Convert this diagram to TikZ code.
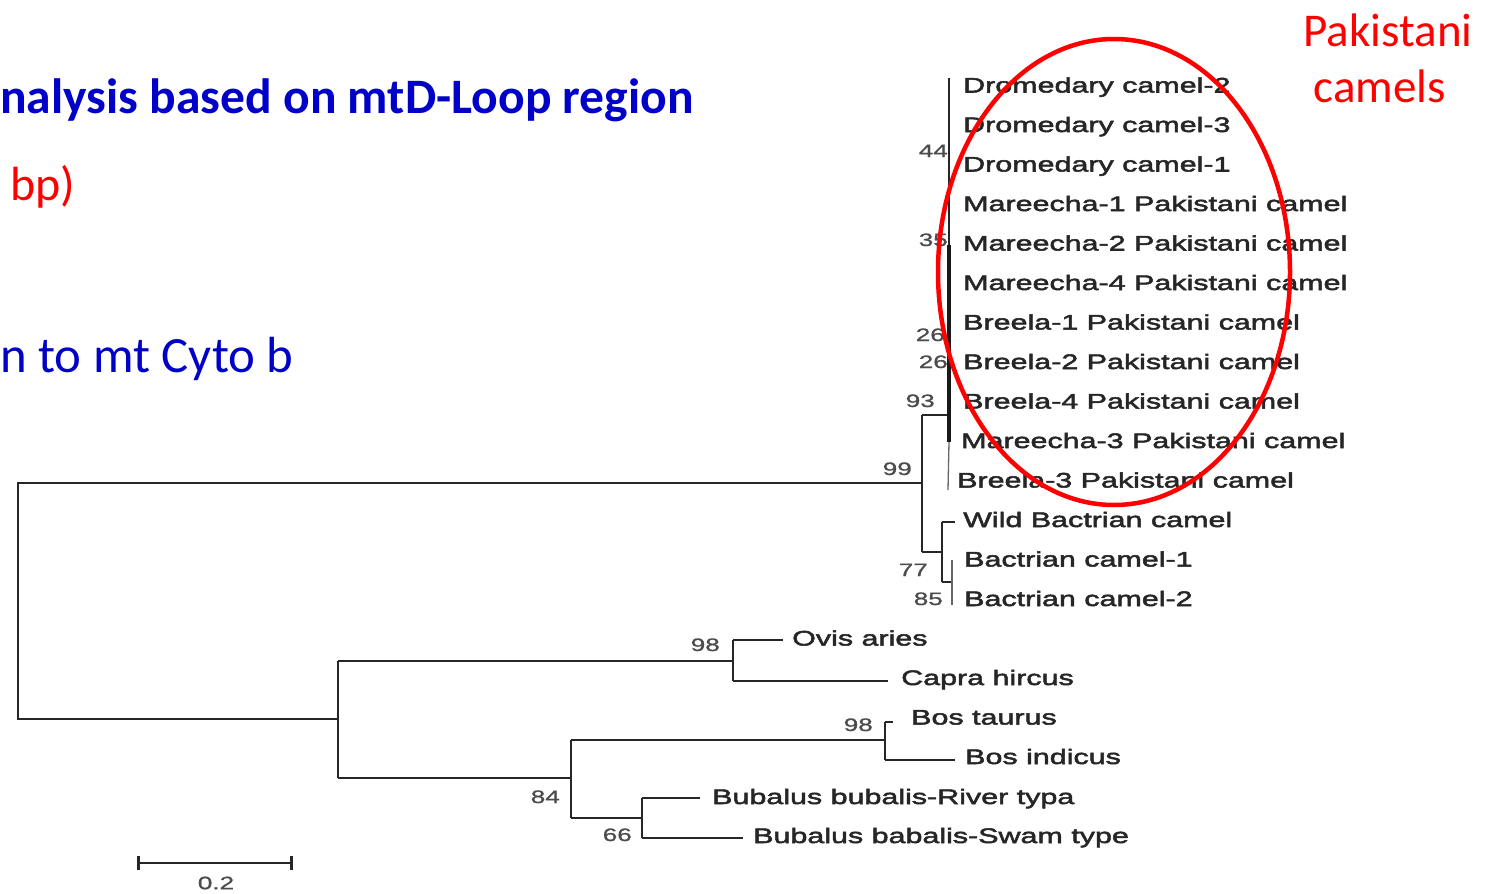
\documentclass[tikz,border=0pt]{standalone}
\usepackage{fontspec}
\setmainfont{Carlito}
\newfontfamily\tipfont[FakeStretch=1.45,FakeBold=2.4]{Liberation Sans}
\newfontfamily\bsfont[FakeStretch=1.45,FakeBold=1]{Liberation Sans}
\definecolor{ttl}{RGB}{0,0,200}
\definecolor{rd}{RGB}{255,0,0}
\begin{document}
\begin{tikzpicture}[x=1pt,y=-1pt,
  br/.style={line width=2.8, draw=black!85},
  thinbr/.style={line width=1.3, draw=black!60},
  tip/.style={anchor=base west, inner sep=0, font=\tipfont\fontsize{21}{21}\selectfont, text=black!85},
  bs/.style={anchor=base east, inner sep=0, font=\bsfont\fontsize{18}{18}\selectfont, text=black!70},
  slide/.style={anchor=base west, inner sep=0, font=\fontsize{48}{56}\selectfont}]
\useasboundingbox (0,0) rectangle (1491,894);
\fill[white] (0,0) rectangle (1491,894);

% slide texts
\node[slide, text=ttl, font=\bfseries\fontsize{49.6}{56}\selectfont] (title) at (0,113) {nalysis based on mtD-Loop region};
\node[slide, text=rd] (bp) at (10,200) {bp)};
\node[slide, text=ttl, font=\fontsize{50.8}{56}\selectfont] (cyto) at (0,372) {n to mt Cyto b};
\node[text=rd, align=center, inner sep=0, font=\fontsize{47}{56}\selectfont] (pak) at (1388,58) {Pakistani\\camels\hspace*{16pt}};

% tree coordinates
\coordinate (R1) at (18,483);
\coordinate (R2) at (18,719);
\coordinate (C) at (922,483);
\coordinate (C93) at (922,415);
\coordinate (C77) at (922,552);
\coordinate (D) at (949,415);
\coordinate (Dtop) at (949,78);
\coordinate (Dmid) at (949,245);
\coordinate (Dbot) at (949,442);
\coordinate (Dend) at (948,490);
\coordinate (B) at (942,552);
\coordinate (Bw) at (942,522);
\coordinate (Bb) at (942,582);
\coordinate (BwT) at (955,522);
\coordinate (BbN) at (952,582);
\coordinate (Bb1) at (952,560);
\coordinate (Bb2) at (952,605);

\coordinate (O) at (338,719);
\coordinate (O1) at (338,661);
\coordinate (O2) at (338,778);
\coordinate (OC) at (733,661);
\coordinate (OCa) at (733,640);
\coordinate (OCb) at (733,681);
\coordinate (OvisT) at (783,640);
\coordinate (CapraT) at (888,681);
\coordinate (BB) at (571,778);
\coordinate (BBa) at (571,740);
\coordinate (BBb) at (571,818);
\coordinate (Bos) at (885,740);
\coordinate (Bosa) at (885,722);
\coordinate (Bosb) at (885,760);
\coordinate (TaurusT) at (893,722);
\coordinate (IndicusT) at (955,760);
\coordinate (Bub) at (642,818);
\coordinate (Buba) at (642,798);
\coordinate (Bubb) at (642,838);
\coordinate (RiverT) at (700,798);
\coordinate (SwamT) at (743,838);

% branches
\draw[br] (C) -- (R1) -- (R2) -- (O);
\draw[br] (C93) -- (C77);
\draw[br] (C93) -- (D);
\draw[br] (Dtop) -- (Dbot);
\draw[line width=3.6, draw=black!90] (Dmid) -- (Dbot);
\draw[thinbr] (Dbot) -- (Dend);
\draw[br] (C77) -- (B);
\draw[br] (Bw) -- (Bb);
\draw[br] (Bw) -- (BwT);
\draw[br] (Bb) -- (BbN);
\draw[thinbr] (Bb1) -- (Bb2);

\draw[br] (O1) -- (O2);
\draw[br] (O1) -- (OC);
\draw[br] (OCa) -- (OCb);
\draw[br] (OCa) -- (OvisT);
\draw[br] (OCb) -- (CapraT);
\draw[br] (O2) -- (BB);
\draw[br] (BBa) -- (BBb);
\draw[br] (BBa) -- (Bos);
\draw[br] (Bosa) -- (Bosb);
\draw[br] (Bosa) -- (TaurusT);
\draw[br] (Bosb) -- (IndicusT);
\draw[br] (BBb) -- (Bub);
\draw[br] (Buba) -- (Bubb);
\draw[br] (Buba) -- (RiverT);
\draw[br] (Bubb) -- (SwamT);

% tip labels
\node[tip] (d2) at (963,92.5) {Dromedary camel-2};
\node[tip] (d3) at (963,132) {Dromedary camel-3};
\node[tip] (d1) at (963,171.5) {Dromedary camel-1};
\node[tip] (m1) at (963,211) {Mareecha-1 Pakistani camel};
\node[tip] (m2) at (963,250.5) {Mareecha-2 Pakistani camel};
\node[tip] (m4) at (963,290) {Mareecha-4 Pakistani camel};
\node[tip] (b1) at (963,329.5) {Breela-1 Pakistani camel};
\node[tip] (b2) at (963,369) {Breela-2 Pakistani camel};
\node[tip] (b4) at (963,408.5) {Breela-4 Pakistani camel};
\node[tip] (m3) at (961,448) {Mareecha-3 Pakistani camel};
\node[tip] (b3) at (957,487.5) {Breela-3 Pakistani camel};
\node[tip] (wb) at (963,527) {Wild Bactrian camel};
\node[tip] (bc1) at (964,566.5) {Bactrian camel-1};
\node[tip] (bc2) at (964,606) {Bactrian camel-2};
\node[tip] (ovis) at (792,645.5) {Ovis aries};
\node[tip] (capra) at (901,685) {Capra hircus};
\node[tip] (taurus) at (911,724.5) {Bos taurus};
\node[tip] (indicus) at (965,764) {Bos indicus};
\node[tip] (river) at (712,804) {Bubalus bubalis-River typa};
\node[tip] (swam) at (753,843) {Bubalus babalis-Swam type};

% bootstrap values
\node[bs] (v99) at (912,475) {99};
\node[bs] (v93) at (935,407) {93};
\node[bs] (v44) at (948,157) {44};
\node[bs] (v35) at (948,246) {35};
\node[bs] (v26a) at (945,341) {26};
\node[bs] (v26b) at (948,368) {26};
\node[bs] (v77) at (928,576) {77};
\node[bs] (v85) at (943,605) {85};
\node[bs] (v98a) at (720,651) {98};
\node[bs] (v98b) at (873,731) {98};
\node[bs] (v84) at (560,803) {84};
\node[bs] (v66) at (632,841) {66};

% scale bar
\coordinate (s1) at (138,863);
\coordinate (s2) at (291,863);
\draw[br] (s1) -- (s2);
\draw[line width=3, draw=black!85] ([yshift=7]s1) -- ([yshift=-7]s1);
\draw[line width=3, draw=black!85] ([yshift=7]s2) -- ([yshift=-7]s2);
\node[inner sep=0, font=\bsfont\fontsize{18}{18}\selectfont, text=black!70] (sc) at (216,883) {0.2};

% highlight ellipse
\draw[rd, line width=4.5] (1114,272) ellipse [x radius=176, y radius=233];
\end{tikzpicture}
\end{document}
